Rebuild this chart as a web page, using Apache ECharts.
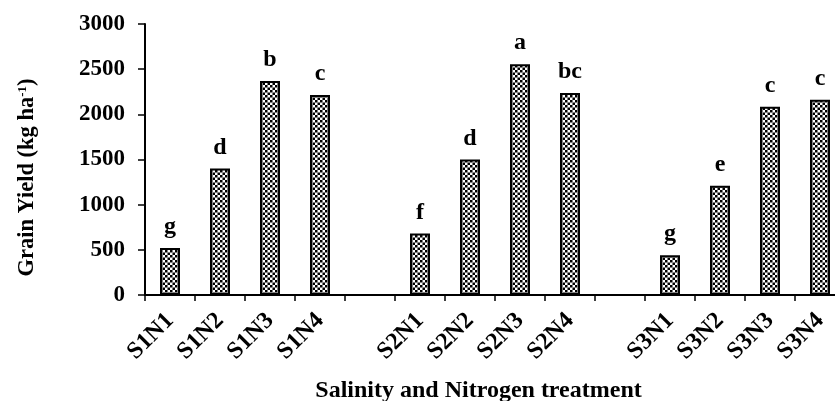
<!DOCTYPE html>
<html>
<head>
<meta charset="utf-8">
<script src="https://cdn.jsdelivr.net/npm/echarts@6/dist/echarts.min.js"></script>
<style>
html,body{margin:0;padding:0;background:#fff;}
#chart{width:835px;height:401px;}
</style>
</head>
<body>
<div id="chart"></div>
<script>
// Categories (empty strings are the gaps between salinity groups)
var categories = ['S1N1','S1N2','S1N3','S1N4','', 'S2N1','S2N2','S2N3','S2N4','', 'S3N1','S3N2','S3N3','S3N4'];
// Grain yield (kg/ha)
var yieldValues = [520, 1400, 2370, 2215, '-', 680, 1500, 2555, 2235, '-', 440, 1210, 2085, 2162];
// Significance letters
var letters = ['g','d','b','c','', 'f','d','a','bc','', 'g','e','c','c'];
var yTicks = [0, 500, 1000, 1500, 2000, 2500, 3000];

var FONT = '"Liberation Serif", "Times New Roman", serif';

function makePattern() {
  var c = document.createElement('canvas');
  c.width = 5; c.height = 5;
  var ctx = c.getContext('2d');
  ctx.fillStyle = '#fff';
  ctx.fillRect(0, 0, 5, 5);
  ctx.fillStyle = '#000';
  ctx.fillRect(0, 0, 2.5, 2.5);
  ctx.fillRect(2.5, 2.5, 2.5, 2.5);
  return c;
}

var chart = echarts.init(document.getElementById('chart'));
var option = {
  animation: false,
  backgroundColor: '#fff',
  grid: { left: 145, top: 24, width: 700, height: 271, containLabel: false, outerBoundsMode: 'none' },
  xAxis: {
    type: 'category',
    data: categories,
    boundaryGap: true,
    axisLine: { lineStyle: { color: '#000', width: 2 } },
    axisTick: { show: true, length: 6, lineStyle: { color: '#000', width: 1.5 }, interval: 0 },
    axisLabel: {
      interval: 0, rotate: 45, margin: 22,
      color: '#000', fontFamily: FONT, fontWeight: 'bold', fontSize: 24
    },
    name: 'Salinity and Nitrogen treatment',
    nameLocation: 'middle',
    nameGap: 84,
    nameTextStyle: { color: '#000', fontFamily: FONT, fontWeight: 'bold', fontSize: 24, padding: [0, 33, 0, 0] }
  },
  yAxis: {
    type: 'value',
    min: 0, max: 3000, interval: 500,
    splitLine: { show: false },
    axisLine: { show: true, lineStyle: { color: '#000', width: 2 } },
    axisTick: { show: true, length: 7, lineStyle: { color: '#000', width: 1.5 } },
    axisLabel: {
      margin: 20, color: '#000', fontFamily: FONT, fontWeight: 'bold', fontSize: 23,
      formatter: function (v) { return yTicks.indexOf(v) >= 0 ? String(v) : ''; }
    },
    name: '{n|Grain Yield (kg ha}{s|-1}{n|)}',
    nameLocation: 'middle',
    nameGap: 106,
    nameRotate: 90,
    nameTextStyle: {
      padding: [0, 36, 0, 0],
      rich: {
        n: { color: '#000', fontFamily: FONT, fontWeight: 'bold', fontSize: 22.5 },
        s: { color: '#000', fontFamily: FONT, fontWeight: 'bold', fontSize: 13, verticalAlign: 'top', padding: [0, 0, 10, 0] }
      }
    }
  },
  series: [{
    type: 'bar',
    data: yieldValues,
    barWidth: 20,
    itemStyle: {
      color: { image: makePattern(), repeat: 'repeat' },
      borderColor: '#000',
      borderWidth: 2
    },
    label: {
      show: true,
      position: 'top',
      distance: 9,
      color: '#000', fontFamily: FONT, fontWeight: 'bold', fontSize: 24,
      formatter: function (p) { return letters[p.dataIndex]; }
    }
  }]
};
chart.setOption(option);
</script>
</body>
</html>
